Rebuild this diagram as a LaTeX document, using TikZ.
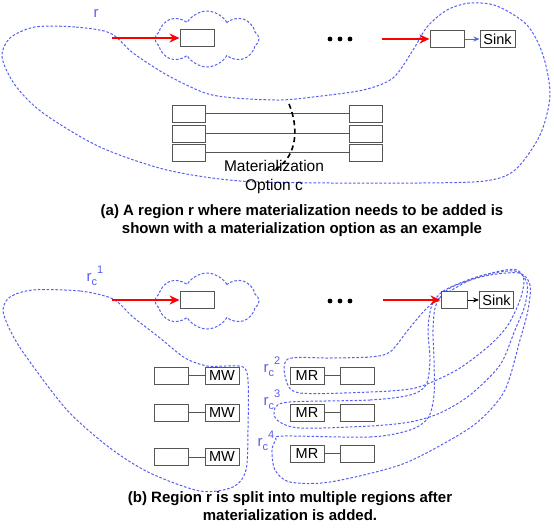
\documentclass[tikz,border=0pt]{standalone}
\usepackage{fontspec}
\setmainfont{Liberation Sans}
\usetikzlibrary{arrows.meta}
\usetikzlibrary{shapes.symbols}
\usetikzlibrary{positioning}

\definecolor{regionblue}{RGB}{85,95,240}
\definecolor{boxgray}{RGB}{85,85,85}

\newcommand{\rsub}[1]{r\raisebox{-0.5ex}{\fontsize{11}{11}\selectfont c}\raisebox{1ex}{\fontsize{11}{11}\selectfont #1}}

\begin{document}
\begin{tikzpicture}[x=1pt,y=-1pt,
    opbox/.style={draw=boxgray, line width=1pt, fill=white, minimum width=34pt,
                  minimum height=17pt, inner sep=0pt, font=\fontsize{14.5}{14.5}\selectfont},
    region/.style={draw=regionblue, line width=1pt, dash pattern=on 2.6pt off 1.8pt},
    cloudregion/.style={region, cloud, cloud puffs=8, cloud puff arc=120, cloud ignores aspect,
                        minimum width=104pt, minimum height=56pt, inner sep=0pt},
    feed/.style={draw=red, line width=1.8pt, -{Stealth[length=10pt,width=9pt]}},
    link/.style={boxgray, line width=0.9pt},
    tosink/.style={line width=0.8pt, -{Stealth[length=6pt,width=5pt]}},
    lab/.style={font=\fontsize{15}{15}\selectfont, text=regionblue, inner sep=0pt},
    caption/.style={font=\fontsize{15}{18}\selectfont\bfseries, align=center}]

\useasboundingbox (0,0) rectangle (554,528);

% (a) one region
\node[cloudregion] (cloudA) at (207,39) {};
\draw[region] plot[smooth cycle] coordinates {
    (110,33) (75,27) (35,27) (10,38) (2,57) (15,85) (43,113) (100,147) (167,170)
    (240,181) (330,183) (420,183) (485,181) (515,170) (540,135) (550,95) (543,55)
    (527,25) (497,6) (470,3) (447,10) (427,27) (413,50) (393,78) (363,90) (313,97)
    (280,100) (235,98) (205,93) (167,75) (133,53)};
\node[lab] (rlabA) at (96,13) {r};

\coordinate (srcA) at (112,38);
\node[opbox] (boxA) at (197,38) {};
\draw[feed] (srcA) -- (boxA.west);

\foreach \x in {330,340,350} \fill (\x,39) circle (2.4pt);

\coordinate (srcA2) at (382,39);
\node[opbox] (lastA) at (447,39) {};
\node[opbox, minimum width=35pt] (sinkA) at (497.5,39) {Sink};
\draw[feed] (srcA2) -- (lastA.west);
\draw[tosink, regionblue] (lastA) -- (sinkA);

\node[opbox, minimum width=33pt] (left1) at (188.5,113.5) {};
\node[opbox, minimum width=33pt] (left2) at (188.5,133.5) {};
\node[opbox, minimum width=33pt] (left3) at (188.5,152.5) {};
\node[opbox, minimum width=33pt] (right1) at (366,113.5) {};
\node[opbox, minimum width=33pt] (right2) at (366,133.5) {};
\node[opbox, minimum width=33pt] (right3) at (366,152.5) {};
\draw[link] (left1) -- (right1);
\draw[link] (left2) -- (right2);
\draw[link] (left3) -- (right3);

\coordinate (cutTop) at (289,104);
\coordinate (cutEnd) at (275,170);
\draw[line width=1.6pt, dash pattern=on 5pt off 3.5pt, -{Stealth[length=4pt,width=4pt]}]
    (cutTop) .. controls (299,128) and (297,155) .. (cutEnd);
\node[font=\fontsize{15.5}{19}\selectfont, align=center] (matlabel) at (274,176.5)
    {Materialization\\Option c};

\node[caption] (capA) at (302,221)
    {(a) A region r where materialization needs to be added is\\shown with a materialization option as an example};

% (b) split regions
\node[cloudregion] (cloudB) at (207,301) {};
\draw[region] plot[smooth cycle] coordinates {
    (113,299) (80,291) (33,290) (10,297) (3,310) (10,330) (25,355) (67,410) (110,448)
    (150,473) (200,491) (233,487) (246,470) (248,430) (248,380) (243,367) (225,366)
    (207,366) (185,358) (160,338) (133,317)};
\draw[region] plot[smooth cycle] coordinates {
    (288,359) (330,358) (370,357) (390,352) (408,330) (425,310) (441,297) (470,280)
    (500,271) (517,270) (524,280) (520,300) (508,325) (490,345) (460,368) (432,382)
    (410,389) (370,392) (300,393) (286,380)};
\draw[region] plot[smooth cycle] coordinates {
    (290,402) (370,400) (410,395) (426,385) (430,360) (428,330) (432,305) (445,290)
    (480,276) (515,271) (527,283) (525,305) (515,330) (500,365) (470,395) (440,413)
    (410,422) (370,426) (300,428) (277,420) (275,408)};
\draw[region] plot[smooth cycle] coordinates {
    (283,436) (370,437) (410,430) (428,418) (434,395) (434,360) (433,330) (436,305)
    (450,288) (485,276) (519,273) (530,285) (528,310) (520,340) (505,390) (480,420)
    (450,440) (400,465) (330,482) (290,482) (275,470) (272,450) (276,440)};

\node[lab] (rlab1) at (95,276) {\rsub{1}};
\node[lab] (rlab2) at (272,367) {\rsub{2}};
\node[lab] (rlab3) at (272,400) {\rsub{3}};
\node[lab] (rlab4) at (266,441) {\rsub{4}};

\coordinate (srcB) at (112,300);
\node[opbox] (boxB) at (197,300) {};
\draw[feed] (srcB) -- (boxB.west);

\foreach \x in {330,340,350} \fill (\x,301) circle (2.4pt);

\coordinate (srcB2) at (383,300);
\node[opbox, minimum width=26pt] (lastB) at (454,300) {};
\node[opbox] (sinkB) at (496.5,300) {Sink};
\draw[feed] (srcB2) -- (lastB.west);
\draw[tosink] (lastB) -- (sinkB);

\node[opbox] (src1) at (171.5,375.5) {};
\node[opbox] (mw1) at (222,375.5) {MW};
\node[opbox] (src2) at (171.5,412.5) {};
\node[opbox] (mw2) at (222,412.5) {MW};
\node[opbox] (src3) at (171.5,457) {};
\node[opbox] (mw3) at (222,457) {MW};
\draw[link] (src1) -- (mw1);
\draw[link] (src2) -- (mw2);
\draw[link] (src3) -- (mw3);

\node[opbox] (mr1) at (307,375.5) {MR};
\node[opbox] (dst1) at (357.5,375.5) {};
\node[opbox] (mr2) at (307,412.5) {MR};
\node[opbox] (dst2) at (357.5,412.5) {};
\node[opbox] (mr3) at (307,453.5) {MR};
\node[opbox] (dst3) at (357.5,453.5) {};
\draw[link] (mr1) -- (dst1);
\draw[link] (mr2) -- (dst2);
\draw[link] (mr3) -- (dst3);

\node[caption] (capB) at (290,506)
    {(b) Region r is split into multiple regions after\\materialization is added.};
\end{tikzpicture}
\end{document}
